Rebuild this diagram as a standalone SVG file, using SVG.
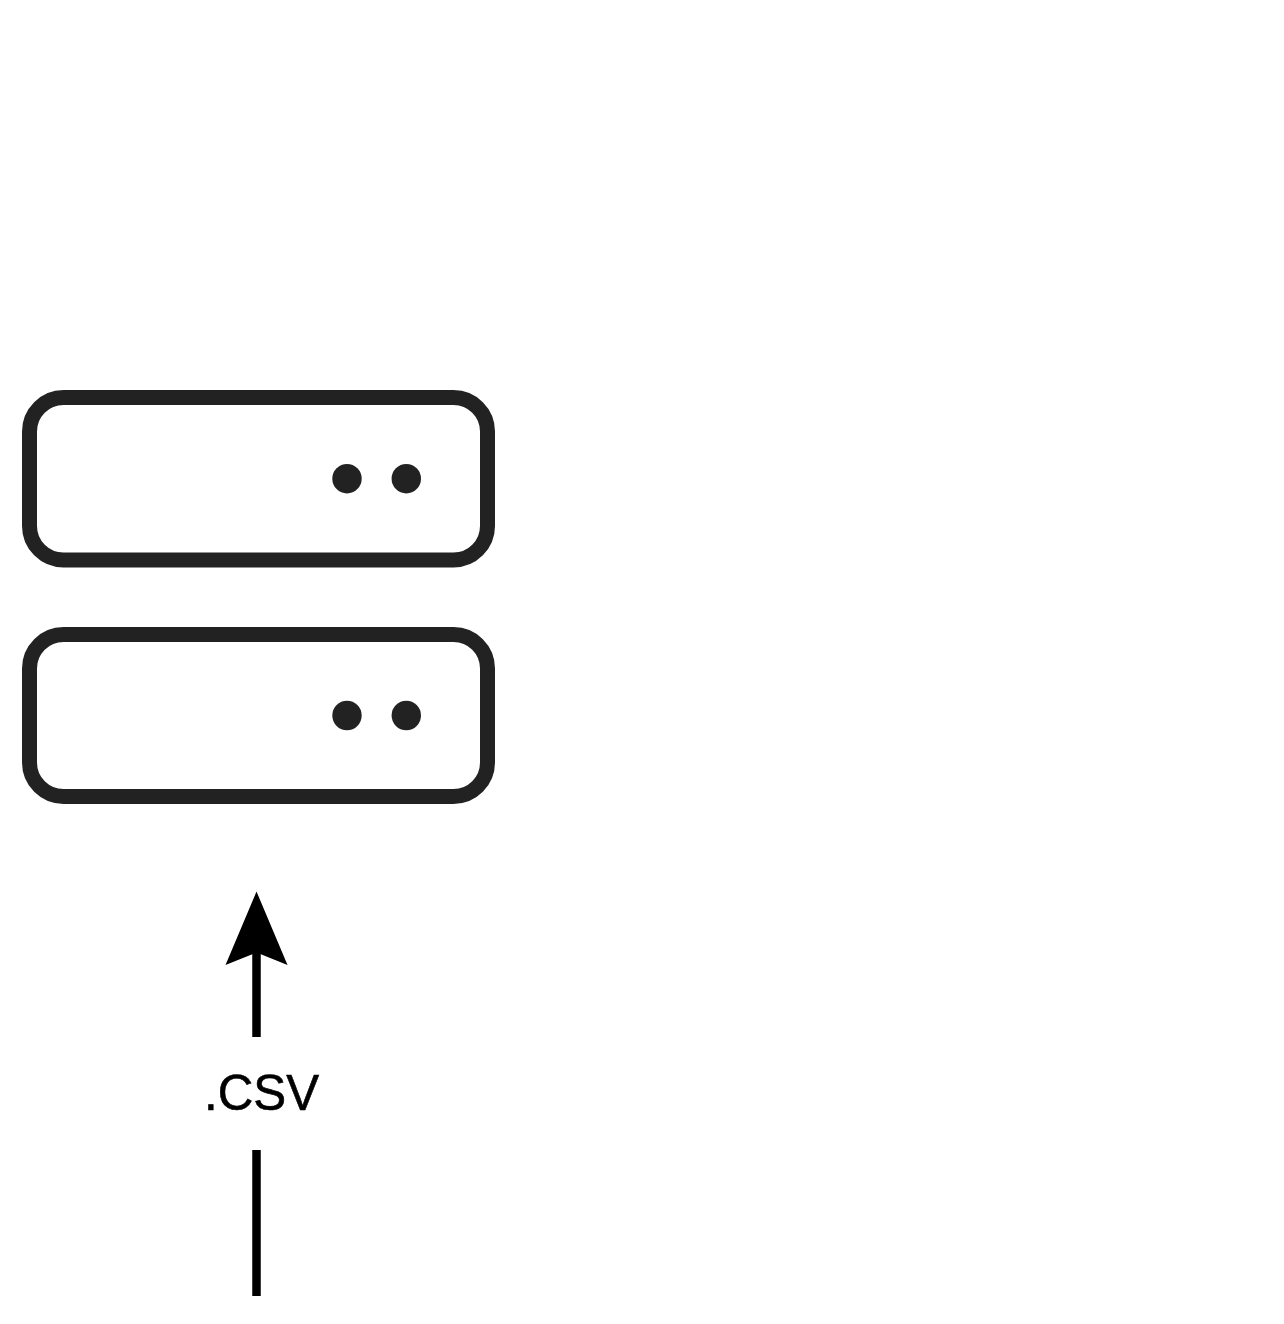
<svg xmlns="http://www.w3.org/2000/svg" width="1284" height="1324" viewBox="0 0 1284 1324">
<style>
.box{fill:#fff;stroke:#222;stroke-width:15}
.dot{fill:#222}
.line{fill:none;stroke:#000;stroke-width:8.5}
.label{font-family:"Liberation Sans",Arial,sans-serif;font-size:50px;fill:#000;stroke:#000;stroke-width:.6}
</style>
<rect width="1284" height="1324" fill="#fff"/>
<g id="server-top">
<rect class="box" x="29.5" y="397.5" width="458" height="162.5" rx="34" ry="34"/>
<circle class="dot" cx="347" cy="478.7" r="14.7"/>
<circle class="dot" cx="406.3" cy="478.7" r="14.7"/>
</g>
<g id="server-bottom">
<rect class="box" x="29.5" y="634.5" width="458" height="162" rx="34" ry="34"/>
<circle class="dot" cx="347" cy="715.5" r="14.7"/>
<circle class="dot" cx="406.3" cy="715.5" r="14.7"/>
</g>
<g id="connectors">
<path class="line" d="M256.5 1296V1150"/>
<path class="line" d="M256.5 1037V950"/>
<path d="M256.5 891.5L287.5 965L256.5 952.5L225.5 965Z" fill="#000"/>
</g>
<g id="label">
<text class="label" x="204" y="1110" textLength="115" lengthAdjust="spacingAndGlyphs">.CSV</text>
</g>
</svg>
